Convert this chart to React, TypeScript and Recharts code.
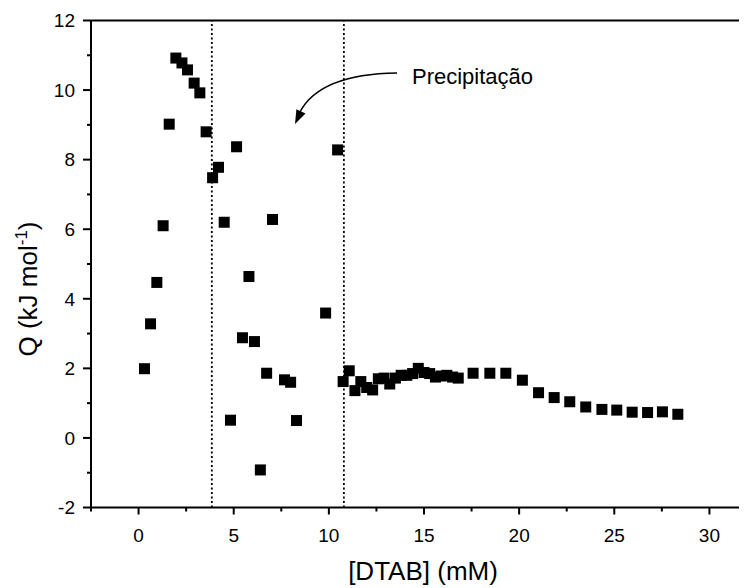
import React from 'react';
import {
  ScatterChart,
  Scatter,
  XAxis,
  YAxis,
  ReferenceLine,
  Customized,
} from 'recharts';

// [DTAB] concentration (mM) and heat Q (kJ/mol)
const dtab = [
  0.31, 0.63, 0.96, 1.29, 1.61, 1.96, 2.28, 2.57, 2.92, 3.22,
  3.55, 3.89, 4.2, 4.5, 4.83, 5.15, 5.46, 5.8, 6.09, 6.4,
  6.73, 7.04, 7.67, 7.99, 8.3, 9.83, 10.46, 10.75, 11.07, 11.37,
  11.68, 11.99, 12.3, 12.6, 12.9, 13.2, 13.5, 13.8, 14.1, 14.4,
  14.7, 15.0, 15.3, 15.6, 15.9, 16.2, 16.5, 16.8, 17.58, 18.46,
  19.3, 20.17, 21.02, 21.84, 22.66, 23.5, 24.35, 25.13, 25.94, 26.75,
  27.53, 28.34,
];
const heat = [
  1.99, 3.28, 4.47, 6.1, 9.02, 10.92, 10.78, 10.58, 10.2, 9.92,
  8.8, 7.48, 7.78, 6.2, 0.51, 8.37, 2.88, 4.64, 2.77, -0.92,
  1.86, 6.28, 1.67, 1.6, 0.5, 3.59, 8.28, 1.62, 1.93, 1.36,
  1.62, 1.45, 1.38, 1.7, 1.72, 1.55, 1.72, 1.8, 1.8, 1.85,
  2.0, 1.88, 1.85, 1.75, 1.78, 1.8, 1.75, 1.72, 1.86, 1.86,
  1.86, 1.66, 1.3, 1.16, 1.04, 0.89, 0.82, 0.8, 0.74, 0.73,
  0.75, 0.68,
];

const xTicks = [-2.5, 0, 2.5, 5, 7.5, 10, 12.5, 15, 17.5, 20, 22.5, 25, 27.5, 30, 32.5];
const yTicks = [-2, -1, 0, 1, 2, 3, 4, 5, 6, 7, 8, 9, 10, 11, 12];
const boundaries = [3.85, 10.79];

const data = dtab.map((x, i) => ({ x, q: heat[i] }));

const FONT = '"Liberation Sans", Arial, sans-serif';

const XTick = (props: any) => {
  const { x, y, payload } = props;
  const major = payload.value % 5 === 0;
  return (
    <g>
      <line x1={x} y1={y} x2={x} y2={y + (major ? 7 : 4)} stroke="#000" strokeWidth={2} />
      {major && (
        <text x={x} y={y + 34} textAnchor="middle" fontSize={19} fontFamily={FONT} fill="#000">
          {payload.value}
        </text>
      )}
    </g>
  );
};

const YTick = (props: any) => {
  const { x, y, payload } = props;
  const major = payload.value % 2 === 0;
  return (
    <g>
      <line x1={x - (major ? 8 : 4)} y1={y} x2={x} y2={y} stroke="#000" strokeWidth={2} />
      {major && (
        <text x={x - 16} y={y} dy="0.36em" textAnchor="end" fontSize={19} fontFamily={FONT} fill="#000">
          {payload.value}
        </text>
      )}
    </g>
  );
};

const Square = (props: any) => {
  const { cx, cy } = props;
  return <rect x={cx - 5.5} y={cy - 5.5} width={11} height={11} fill="#000" />;
};

const Annotation = () => (
  <g>
    <path d="M389,65 Q312,66 292,104" fill="none" stroke="#000" strokeWidth={1.5} />
    <polygon points="287,116 297.5,105.4 288.4,101.2" fill="#000" />
    <text x={404} y={76} fontSize={22} fontFamily={FONT} fill="#000">Precipitação</text>
    <text x={415} y={572} textAnchor="middle" fontSize={26} fontFamily={FONT} fill="#000">[DTAB] (mM)</text>
    <text transform="translate(29,281) rotate(-90)" textAnchor="middle" fontSize={26} fontFamily={FONT} fill="#000">
      Q (kJ mol<tspan fontSize={17} dy={-10}>-1</tspan><tspan dy={10}>)</tspan>
    </text>
  </g>
);

export default function App() {
  return (
    <div style={{ width: 739, height: 580, overflow: 'hidden' }}>
      <ScatterChart
        width={760}
        height={580}
        margin={{ top: 12.5, right: 11, bottom: 0, left: 0 }}
      >
        <XAxis
          type="number"
          dataKey="x"
          domain={[-2.5, 32.5]}
          ticks={xTicks}
          interval={0}
          height={80.5}
          tickSize={0}
          tickMargin={0}
          tick={<XTick />}
          axisLine={{ stroke: '#000', strokeWidth: 2 }}
          allowDataOverflow
        />
        <YAxis
          type="number"
          dataKey="q"
          domain={[-2, 12]}
          ticks={yTicks}
          interval={0}
          width={83}
          tickSize={0}
          tickMargin={0}
          tick={<YTick />}
          axisLine={{ stroke: '#000', strokeWidth: 2 }}
          allowDataOverflow
        />
        <ReferenceLine y={12} stroke="#000" strokeWidth={2} />
        {boundaries.map((b) => (
          <ReferenceLine key={b} x={b} stroke="#000" strokeWidth={1.8} strokeDasharray="2 2.5" />
        ))}
        <Scatter data={data} shape={<Square />} isAnimationActive={false} />
        <Customized component={<Annotation />} />
      </ScatterChart>
    </div>
  );
}
